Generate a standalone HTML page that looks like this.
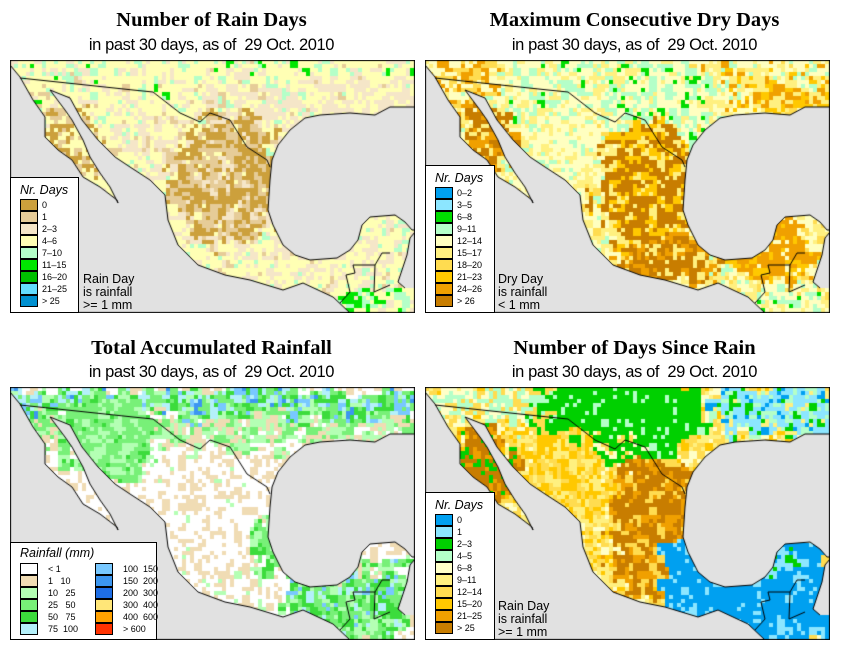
<!DOCTYPE html>
<html><head><meta charset="utf-8"><style>
body{margin:0;background:#fff;width:846px;height:658px;position:relative;overflow:hidden;font-family:"Liberation Sans",sans-serif}
.t{position:absolute;text-align:center;width:423px;font-family:"Liberation Serif",serif;font-weight:bold;font-size:20.5px;color:#000}
.s{position:absolute;text-align:center;width:423px;font-size:16.5px;color:#000;letter-spacing:-0.4px}
canvas{position:absolute}
.lg{position:absolute;background:#fff;border:1px solid #000;box-sizing:border-box}
.lt{position:absolute;font-style:italic;font-size:12.5px}
.sw{position:absolute;width:18px;height:12px;border:1px solid #000;box-sizing:border-box}
.ll{position:absolute;font-size:9px;line-height:12px}
.note{position:absolute;font-size:12.5px;line-height:13px;background:transparent}
</style></head><body>
<div class="t" style="left:0;top:9px">Number of Rain Days</div>
<div class="s" style="left:0;top:36px">in past 30 days, as of &nbsp;29 Oct. 2010</div>
<div class="t" style="left:423px;top:9px">Maximum Consecutive Dry Days</div>
<div class="s" style="left:423px;top:36px">in past 30 days, as of &nbsp;29 Oct. 2010</div>
<div class="t" style="left:0;top:337px">Total Accumulated Rainfall</div>
<div class="s" style="left:0;top:363px">in past 30 days, as of &nbsp;29 Oct. 2010</div>
<div class="t" style="left:423px;top:337px">Number of Days Since Rain</div>
<div class="s" style="left:423px;top:363px">in past 30 days, as of &nbsp;29 Oct. 2010</div>

<canvas id="m0" width="405" height="253" style="left:10px;top:60px"></canvas>
<canvas id="m1" width="405" height="253" style="left:425px;top:60px"></canvas>
<canvas id="m2" width="405" height="253" style="left:10px;top:387px"></canvas>
<canvas id="m3" width="405" height="253" style="left:425px;top:387px"></canvas>
<div id="legends"></div>
<script>
// legend data
const rainDayLabels=["0","1","2–3","4–6","7–10","11–15","16–20","21–25","> 25"];
const rainDayColors=["#cca03c","#e6cc98","#f5e6c8","#ffffb4","#b4ffc8","#00e600","#00c000","#64dcff","#0090d0"];
const dryLabels=["0–2","3–5","6–8","9–11","12–14","15–17","18–20","21–23","24–26","> 26"];
const dryColors=["#00a0f0","#8ce6ff","#00dc00","#b4ffc8","#ffffc0","#fff080","#ffdc50","#ffc800","#f0a000","#c87d00"];
const rainLabels=["< 1","1   10","10   25","25   50","50   75","75  100","100  150","150  200","200  300","300  400","400  600","> 600"];
const rainColors=["#ffffff","#f0dcb4","#b4ffb4","#78f078","#3cdc3c","#b4f0fa","#78c8ff","#3c96f0","#1e6ee6","#ffe678","#ffa000","#ff3200"];
const sinceLabels=["0","1","2–3","4–5","6–8","9–11","12–14","15–20","21–25","> 25"];
const sinceColors=["#00a0f0","#8ce6ff","#00d000","#b4ffc8","#ffffc8","#fff080","#ffdc50","#ffc800","#f0a000","#c87d00"];

// map geometry (map-local coordinates)
const pacific=[[0,5],[10,17],[23,40],[35,57],[35,77],[48,90],[62,100],[73,117],[90,127],[107,140],[108,143],[100,127],[90,113],[80,97],[73,80],[62,60],[55,50],[40,30],[60,38],[72,60],[88,80],[105,97],[120,107],[140,120],[155,135],[158,160],[168,185],[188,205],[215,215],[240,220],[273,230],[293,223],[323,237],[340,253],[0,253]];
const gulf=[[405,47],[380,47],[365,55],[340,53],[310,55],[295,58],[280,70],[268,85],[262,100],[260,120],[258,150],[263,165],[273,185],[285,195],[300,200],[327,198],[340,190],[348,180],[352,165],[360,157],[385,155],[395,162],[402,170],[405,170]];
const carib=[[405,172],[400,178],[397,195],[392,210],[388,222],[395,228],[405,228]];
const border=[[10,18],[123,30],[143,32],[170,53],[190,62],[200,53],[220,60],[237,87],[257,100],[260,107]];
const guat=[[330,243],[340,232],[336,215],[345,213],[343,205],[365,205],[372,193],[380,193]];
const guat2=[[365,205],[364,232],[380,225]];

function hash(i,j,k){let h=(i*374761393+j*668265263+k*1442695041)|0;h=(h^(h>>>13))*1274126177|0;h^=h>>>16;return (h>>>0)/4294967296;}
function pick(dist,i,j,k){
  const a=Math.floor(i/2),b=Math.floor(j/2);
  const r=hash(i,j,k)<0.55?hash(a,b,k+7):hash(i,j,k+3);
  let acc=0;for(const [c,p] of dist){acc+=p;if(r<acc)return c;}return dist[dist.length-1][0];
}
function inE(x,y,e){const dx=(x-e[0])/e[2],dy=(y-e[1])/e[3];return dx*dx+dy*dy<1;}
function inR(x,y,r){return x>=r[0]&&x<r[2]&&y>=r[1]&&y<r[3];}
const C0=rainDayColors,C1=dryColors,C2=rainColors,C3=sinceColors;
const maps=[
 {base:[[C0[3],.55],[C0[2],.3],[C0[4],.1],[C0[1],.05]],regs:[
   {r:[0,0,405,45],d:[[C0[3],.6],[C0[4],.15],[C0[2],.2],[C0[5],.03],[C0[1],.02]]},
   {r:[200,20,405,60],d:[[C0[2],.6],[C0[3],.3],[C0[1],.05],[C0[4],.05]]},
   {e:[165,80,45,30],d:[[C0[3],.45],[C0[2],.35],[C0[1],.2]]},
   {e:[215,120,55,70],d:[[C0[0],.45],[C0[1],.33],[C0[2],.15],[C0[3],.07]]},
   {e:[250,105,15,40],d:[[C0[0],.7],[C0[1],.3]]},
   {e:[60,85,30,40],d:[[C0[0],.5],[C0[1],.3],[C0[3],.2]]},
   {e:[345,190,45,30],d:[[C0[3],.5],[C0[2],.4],[C0[4],.1]]},
   {r:[330,225,405,253],d:[[C0[3],.45],[C0[4],.3],[C0[5],.2],[C0[2],.05]]}]},
 {base:[[C1[4],.45],[C1[5],.3],[C1[3],.1],[C1[6],.15]],regs:[
   {r:[70,0,280,70],d:[[C1[4],.4],[C1[3],.3],[C1[5],.2],[C1[2],.1]]},
   {r:[280,0,405,55],d:[[C1[4],.35],[C1[5],.3],[C1[3],.15],[C1[7],.1],[C1[8],.1]]},
   {r:[330,25,405,55],d:[[C1[8],.4],[C1[7],.3],[C1[5],.3]]},
   {r:[0,0,70,40],d:[[C1[8],.4],[C1[6],.3],[C1[4],.3]]},
   {e:[135,90,45,40],d:[[C1[4],.55],[C1[5],.3],[C1[3],.15]]},
   {e:[225,130,55,70],d:[[C1[9],.55],[C1[5],.2],[C1[7],.25]]},
   {e:[240,205,55,25],d:[[C1[9],.5],[C1[8],.3],[C1[5],.2]]},
   {e:[345,190,45,32],d:[[C1[8],.6],[C1[7],.3],[C1[4],.1]]},
   {e:[60,85,30,45],d:[[C1[9],.5],[C1[8],.3],[C1[5],.2]]},
   {r:[320,230,405,253],d:[[C1[4],.4],[C1[3],.3],[C1[2],.15],[C1[5],.15]]}]},
 {base:[[C2[0],.62],[C2[1],.33],[C2[2],.05]],regs:[
   {r:[0,0,405,60],d:[[C2[2],.4],[C2[3],.25],[C2[1],.25],[C2[0],.1]]},
   {r:[0,0,405,30],d:[[C2[3],.3],[C2[4],.25],[C2[5],.15],[C2[6],.15],[C2[2],.1],[C2[7],.05]]},
   {e:[100,55,50,45],d:[[C2[3],.6],[C2[2],.3],[C2[4],.1]]},
   {e:[200,135,70,75],d:[[C2[0],.6],[C2[1],.37],[C2[2],.03]]},
   {e:[270,160,25,30],d:[[C2[3],.4],[C2[2],.3],[C2[4],.2],[C2[1],.1]]},
   {r:[280,180,405,253],d:[[C2[3],.35],[C2[4],.25],[C2[2],.2],[C2[5],.1],[C2[6],.1]]},
   {e:[330,185,25,20],d:[[C2[3],.4],[C2[2],.3],[C2[1],.2],[C2[4],.1]]}]},
 {base:[[C3[5],.3],[C3[6],.3],[C3[4],.2],[C3[7],.2]],regs:[
   {r:[0,0,100,30],d:[[C3[3],.5],[C3[4],.3],[C3[6],.2]]},
   {r:[100,0,190,45],d:[[C3[2],.4],[C3[3],.3],[C3[6],.3]]},
   {e:[205,25,80,45],d:[[C3[2],.85],[C3[3],.15]]},
   {e:[190,65,25,20],d:[[C3[2],.6],[C3[4],.2],[C3[6],.2]]},
   {r:[290,0,405,50],d:[[C3[1],.5],[C3[3],.2],[C3[0],.1],[C3[5],.1],[C3[2],.1]]},
   {e:[140,90,45,45],d:[[C3[6],.35],[C3[5],.3],[C3[7],.35]]},
   {e:[230,120,45,50],d:[[C3[9],.55],[C3[8],.25],[C3[6],.2]]},
   {e:[60,85,30,45],d:[[C3[9],.55],[C3[8],.25],[C3[2],.2]]},
   {e:[215,185,35,25],d:[[C3[9],.45],[C3[8],.3],[C3[6],.25]]},
   {r:[240,148,405,253],d:[[C3[0],.85],[C3[1],.15]]},
   {e:[345,170,35,12],d:[[C3[1],.4],[C3[2],.3],[C3[0],.3]]}]}
];
function path(ctx,pts,close){ctx.beginPath();pts.forEach((p,i)=>i?ctx.lineTo(p[0],p[1]):ctx.moveTo(p[0],p[1]));if(close)ctx.closePath();}
maps.forEach((m,k)=>{
  const ctx=document.getElementById('m'+k).getContext('2d');
  const S=4;
  for(let i=0;i<102;i++)for(let j=0;j<64;j++){
    const jx=(hash(Math.floor(i/3),Math.floor(j/3),99+k)-0.5)*22;
    const jy=(hash(Math.floor(i/3),Math.floor(j/3),199+k)-0.5)*22;
    const x=i*S+2+jx,y=j*S+2+jy;let d=m.base;
    for(const g of m.regs){if(g.e?inE(x,y,g.e):inR(x,y,g.r))d=g.d;}
    ctx.fillStyle=pick(d,i,j,k*31+1);ctx.fillRect(i*S,j*S,S,S);
  }
  ctx.fillStyle='#e1e1e1';ctx.strokeStyle='#000';ctx.lineWidth=1;
  [pacific,gulf,carib].forEach(p=>{path(ctx,p,true);ctx.fill();});
  [pacific.slice(0,34),gulf,carib.slice(0,6)].forEach(p=>{path(ctx,p,false);ctx.stroke();});
  [border,guat,guat2].forEach(p=>{path(ctx,p,false);ctx.stroke();});
  ctx.lineWidth=2;ctx.strokeRect(0,0,405,253);
});

// legends
const L=document.getElementById('legends');
function el(cls,style,txt,name){const d=document.createElement('div');d.className=cls;d.style.cssText=style;if(txt!==undefined)d.textContent=txt;


L.appendChild(d);return d;}
function legend(x,y,w,h,ty,sy,labels,colors,name){
  el('lg',`left:${x}px;top:${y}px;width:${w}px;height:${h}px`,undefined,name+'-legend');
  el('lt',`left:${x+10}px;top:${ty}px`,name==='rainfall'?'Rainfall (mm)':'Nr. Days',name+'-legend-title');
  labels.forEach((lb,i)=>{
    const col=name==='rainfall'?Math.floor(i/6):0,row=name==='rainfall'?i%6:i;
    const sx=x+10+col*75;
    el('sw',`left:${sx}px;top:${sy+row*12}px;background:${colors[i]}`,undefined,name+'-swatch');
    el('ll',`left:${sx+(name==='rainfall'?28:22)}px;top:${sy+row*12}px;white-space:pre`,lb,name+'-label');
  });
}
legend(10,177,69,136,183,199,rainDayLabels,rainDayColors,'rain-days');
legend(425,165,70,148,171,187,dryLabels,dryColors,'dry-days');
legend(10,542,147,98,546,563,rainLabels,rainColors,'rainfall');
legend(425,492,70,148,498,514,sinceLabels,sinceColors,'days-since-rain');
function note(x,y,lines,name){const d=el('note',`left:${x}px;top:${y}px`,undefined,name);d.innerHTML=lines.join('<br>');}
note(83,273,['Rain Day','is rainfall','&gt;= 1 mm'],'rain-day-note');
note(498,273,['Dry Day','is rainfall','&lt; 1 mm'],'dry-day-note');
note(498,600,['Rain Day','is rainfall','&gt;= 1 mm'],'since-rain-note');
</script>
</body></html>
